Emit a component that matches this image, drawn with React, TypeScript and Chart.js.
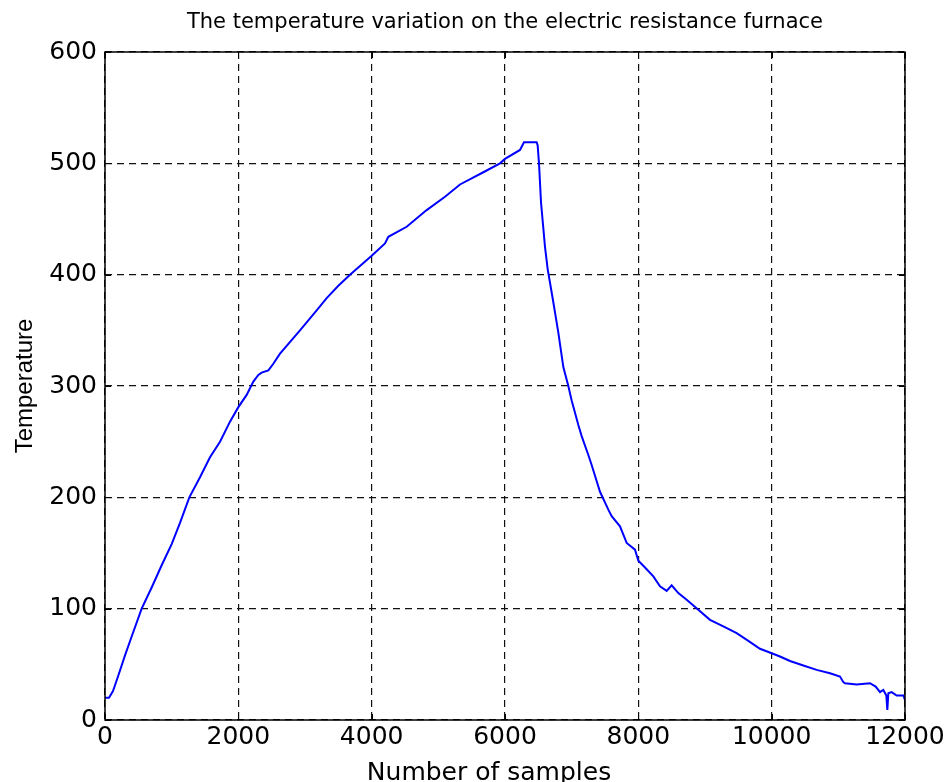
import React, { useEffect, useRef } from "react";
import { Chart, registerables } from "chart.js";

Chart.register(...registerables);

const chartTitle = "The temperature variation on the electric resistance furnace";
const xAxisLabel = "Number of samples";
const yAxisLabel = "Temperature";

const samples = [
  0, 60, 120, 200, 300, 400, 550, 700, 850, 1000, 1125, 1265, 1425, 1575, 1725,
  1875, 2000, 2125, 2225, 2300, 2350, 2450, 2525, 2625, 2925, 3175, 3325, 3500,
  3675, 4000, 4200, 4250, 4525, 4825, 5100, 5325, 5675, 5925, 6000, 6225, 6285,
  6475, 6490, 6510, 6540, 6600, 6640, 6720, 6800, 6875, 6950, 7000, 7100, 7150,
  7250, 7300, 7425, 7550, 7600,
  7725, 7825, 7950, 8000, 8100, 8225, 8325, 8425, 8500, 8600, 8725, 8900, 9075,
  9275, 9475, 9650, 9825, 10000, 10125, 10275, 10475, 10675, 10875, 11025,
  11075, 11100, 11275, 11475, 11560, 11625, 11675, 11720, 11735, 11750, 11800,
  11875, 11975, 12000,
];

const temperatures = [
  20, 20, 26, 40, 58, 75, 100, 119, 139, 158, 177, 200, 218, 236, 250,
  268, 281, 292, 304, 310, 312, 314, 320, 329, 350, 368, 379, 390,
  400, 417, 428, 434, 443, 458, 470, 481, 492, 500, 504, 512, 519,
  519, 516, 500, 465, 425, 405, 377, 348, 317, 300, 287, 265, 255,
  238, 229, 205, 189, 183,
  174, 159, 153, 143, 137, 129, 120, 116, 121, 114, 108, 99, 90,
  84, 78, 71, 64, 60, 57, 53, 49, 45, 42, 39,
  34, 33, 32, 33, 30, 25, 27, 22, 9, 24, 25,
  22, 22, 18,
];

const xTicks = [0, 2000, 4000, 6000, 8000, 10000, 12000];
const yTicks = [0, 100, 200, 300, 400, 500, 600];

const boxPlugin = {
  id: "matlabBox",
  afterDraw(chart: any) {
    const { ctx, chartArea } = chart;
    const { left, right, top, bottom } = chartArea;
    const xs = chart.scales.x;
    const ys = chart.scales.y;
    ctx.save();
    ctx.strokeStyle = "#000";
    ctx.lineWidth = 1.5;
    ctx.setLineDash([]);
    ctx.strokeRect(left, top, right - left, bottom - top);
    ctx.lineWidth = 1;
    const tl = 6;
    ctx.beginPath();
    xTicks.forEach((v) => {
      const px = Math.round(xs.getPixelForValue(v)) + 0.5;
      ctx.moveTo(px, top);
      ctx.lineTo(px, top + tl);
      ctx.moveTo(px, bottom);
      ctx.lineTo(px, bottom - tl);
    });
    yTicks.forEach((v) => {
      const py = Math.round(ys.getPixelForValue(v)) + 0.5;
      ctx.moveTo(left, py);
      ctx.lineTo(left + tl, py);
      ctx.moveTo(right, py);
      ctx.lineTo(right - tl, py);
    });
    ctx.stroke();
    ctx.fillStyle = "#000";
    ctx.font = '25px "DejaVu Sans"';
    ctx.textAlign = "center";
    ctx.textBaseline = "alphabetic";
    ctx.fillText(xAxisLabel, 489, 780);
    ctx.restore();
  },
};

export default function App() {
  const canvasRef = useRef<HTMLCanvasElement | null>(null);

  useEffect(() => {
    if (!canvasRef.current) return;
    const chart = new Chart(canvasRef.current, {
      type: "line",
      data: {
        datasets: [
          {
            data: samples.map((s, i) => ({ x: s, y: temperatures[i] })),
            borderColor: "#0000ff",
            backgroundColor: "#0000ff",
            borderWidth: 2,
            pointRadius: 0,
            tension: 0,
            fill: false,
          },
        ],
      },
      plugins: [boxPlugin],
      options: {
        animation: false,
        responsive: false,
        maintainAspectRatio: false,
        layout: { padding: { left: 0, right: 45, top: 0, bottom: 0 } },
        plugins: {
          legend: { display: false },
          tooltip: { enabled: false },
          title: {
            display: true,
            text: chartTitle,
            fullSize: false,
            color: "#000",
            font: { family: '"DejaVu Sans"', size: 21, weight: "normal", lineHeight: 1 },
            padding: { top: 12, bottom: 19 },
          },
        },
        scales: {
          x: {
            type: "linear",
            min: 0,
            max: 12000,
            afterFit: (scale: any) => {
              scale.height = 62;
            },
            afterBuildTicks: (scale: any) => {
              scale.ticks = xTicks.map((v) => ({ value: v }));
            },
            ticks: {
              color: "#000",
              font: { family: '"DejaVu Sans"', size: 25 },
              padding: 2,
              maxRotation: 0,
              autoSkip: false,
              callback: (v: any) => String(v),
            },
            grid: {
              color: "#111",
              lineWidth: 1.2,
              drawTicks: false,
            },
            border: { display: false, dash: [7, 5] },
          },
          y: {
            type: "linear",
            min: 0,
            max: 600,
            afterFit: (scale: any) => {
              scale.width = 105;
            },
            afterBuildTicks: (scale: any) => {
              scale.ticks = yTicks.map((v) => ({ value: v }));
            },
            ticks: {
              color: "#000",
              font: { family: '"DejaVu Sans"', size: 25 },
              padding: 8,
              autoSkip: false,
              callback: (v: any) => String(v),
            },
            grid: {
              color: "#111",
              lineWidth: 1.2,
              drawTicks: false,
            },
            border: { display: false, dash: [7, 5] },
            title: {
              display: true,
              text: yAxisLabel,
              color: "#000",
              font: { family: '"Liberation Sans"', size: 24, lineHeight: 1.2 },
              padding: { top: 11, bottom: 0 },
            },
          },
        },
      },
    });
    return () => chart.destroy();
  }, []);

  return (
    <div
      style={{
        position: "absolute",
        left: 0,
        top: 0,
        width: 950,
        height: 782,
        overflow: "hidden",
        background: "#fff",
      }}
    >
      <canvas ref={canvasRef} width={950} height={782} style={{ display: "block" }} />
    </div>
  );
}
